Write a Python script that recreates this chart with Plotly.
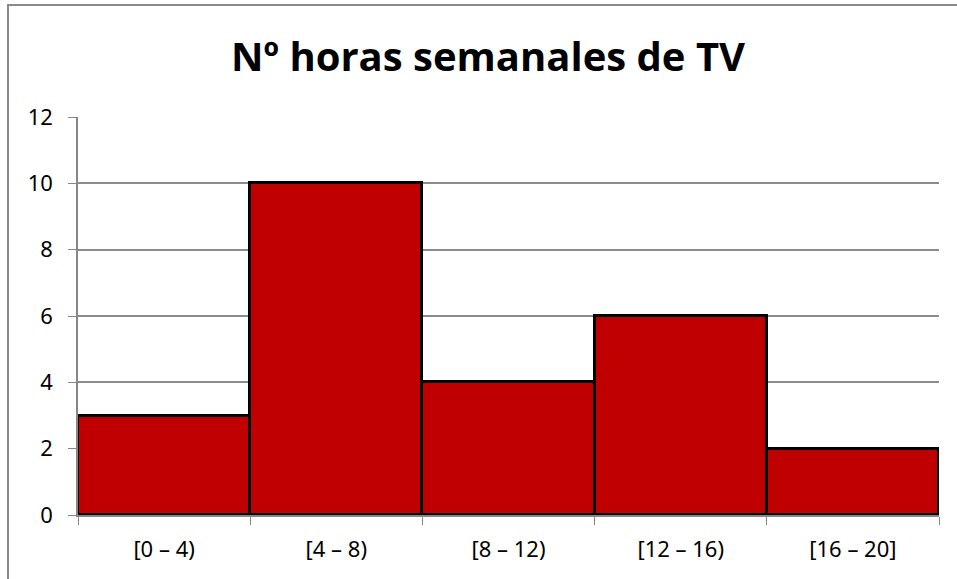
import plotly.graph_objects as go

categories = ["[0 – 4)", "[4 – 8)", "[8 – 12)", "[12 – 16)", "[16 – 20]"]
values = [3, 10, 4, 6, 2]
title_text = "Nº horas semanales de TV"

W, H = 957, 579
L, R, T, B = 78, 18, 117, 64
pw, ph = W - L - R, H - T - B

def px_x(p):
    return (p - L) / pw

def px_y(p):
    return (H - B - p) / ph

fig = go.Figure(go.Bar(
    x=categories, y=values,
    marker=dict(color="#C00000", line=dict(color="#000000", width=3)),
    width=1.0,
))

fig.update_layout(
    width=W, height=H,
    margin=dict(l=L, r=R, t=T, b=B),
    paper_bgcolor="white", plot_bgcolor="white",
    bargap=0,
    showlegend=False,
    font=dict(family="Noto Sans, sans-serif", color="#000000"),
    title=dict(text="<b>" + title_text + "</b>", x=px_x(488), xref="paper",
               xanchor="center", y=1 - 57 / H, yanchor="middle",
               font=dict(size=40, family="Open Sans, sans-serif", color="#000000")),
    xaxis=dict(type="category", showgrid=False, showline=True, linecolor="#878787",
               linewidth=1.5, ticks="outside", ticklen=8, tickcolor="#878787",
               tickson="boundaries", tickfont=dict(size=22), ticklabelstandoff=14,
               range=[-0.5, 4.5]),
    yaxis=dict(range=[0, 12], dtick=2, showgrid=True, gridcolor="#8c8c8c",
               gridwidth=1.5, showline=True, linecolor="#878787", linewidth=1.5,
               ticks="outside", ticklen=8, tickcolor="#878787",
               tickfont=dict(size=22), ticklabelstandoff=11, zeroline=False),
    shapes=[dict(type="rect", xref="paper", yref="paper",
                 x0=px_x(8), x1=px_x(W + 20), y0=px_y(H + 20), y1=px_y(5),
                 line=dict(color="#8a8a8a", width=2), fillcolor="rgba(0,0,0,0)",
                 layer="below")],
)

fig.write_html("out.html", config={"displayModeBar": False},
               post_script="document.body.style.margin='0px';")
